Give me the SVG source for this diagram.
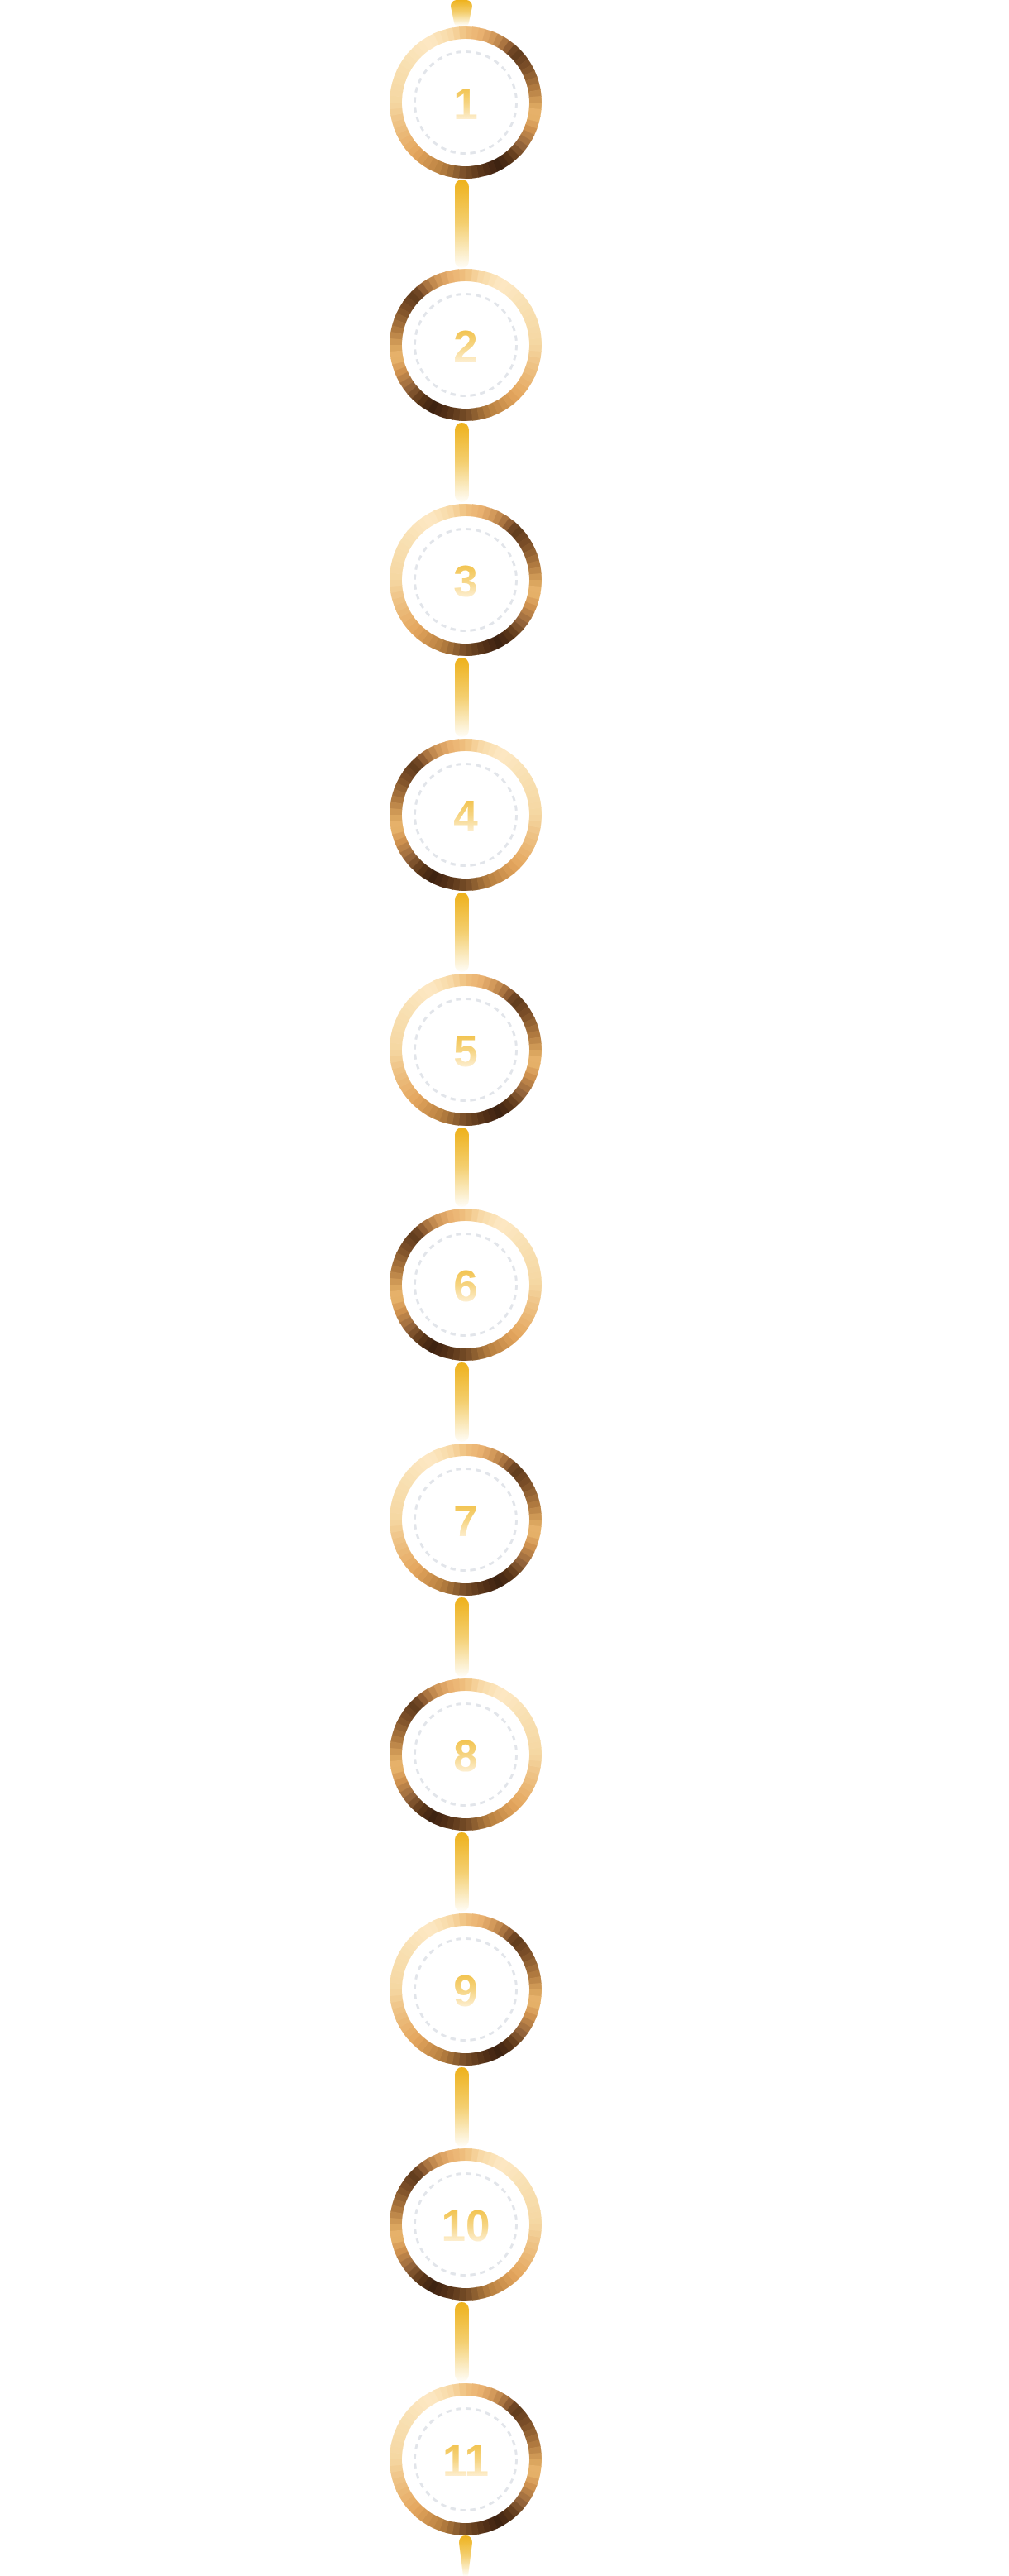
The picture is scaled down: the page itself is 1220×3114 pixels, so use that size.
<svg xmlns="http://www.w3.org/2000/svg" width="1220" height="3114" viewBox="0 0 1220 3114">
<style>
.seg circle{fill:none;stroke-width:15;stroke-dasharray:8.2 540}
.dash{fill:none;stroke:#e2e5ea;stroke-width:3;stroke-dasharray:6.5 5.57}
.num{font-family:"Liberation Sans",Arial,Helvetica,sans-serif;font-weight:700;font-size:53px;fill:url(#numGrad);text-anchor:middle}
.conn{fill:url(#connGrad)}
</style>
<defs>
<linearGradient id="numGrad" x1="0" y1="0" x2="0" y2="1">
<stop offset="0.15" stop-color="#f2c24b"/>
<stop offset="0.5" stop-color="#f6d584"/>
<stop offset="0.82" stop-color="#fdeecf"/>
</linearGradient>
<linearGradient id="connGrad" x1="0" y1="0" x2="0" y2="1">
<stop offset="0" stop-color="#eeb11a"/>
<stop offset="0.5" stop-color="#f4cf70"/>
<stop offset="1" stop-color="#fffdf7"/>
</linearGradient>
<g id="ring" class="seg">
<circle r="84.5" stroke="#eebd7c" transform="rotate(-90)"/>
<circle r="84.5" stroke="#ecb776" transform="rotate(-85)"/>
<circle r="84.5" stroke="#e9b170" transform="rotate(-80)"/>
<circle r="84.5" stroke="#dea566" transform="rotate(-75)"/>
<circle r="84.5" stroke="#d39a5b" transform="rotate(-70)"/>
<circle r="84.5" stroke="#c28a4f" transform="rotate(-65)"/>
<circle r="84.5" stroke="#ab7541" transform="rotate(-60)"/>
<circle r="84.5" stroke="#905e33" transform="rotate(-55)"/>
<circle r="84.5" stroke="#6f4624" transform="rotate(-50)"/>
<circle r="84.5" stroke="#633e1e" transform="rotate(-45)"/>
<circle r="84.5" stroke="#6e4523" transform="rotate(-40)"/>
<circle r="84.5" stroke="#784c27" transform="rotate(-35)"/>
<circle r="84.5" stroke="#84562c" transform="rotate(-30)"/>
<circle r="84.5" stroke="#926233" transform="rotate(-25)"/>
<circle r="84.5" stroke="#a06d39" transform="rotate(-20)"/>
<circle r="84.5" stroke="#af793f" transform="rotate(-15)"/>
<circle r="84.5" stroke="#be884a" transform="rotate(-10)"/>
<circle r="84.5" stroke="#ce9855" transform="rotate(-5)"/>
<circle r="84.5" stroke="#dba65f" transform="rotate(0)"/>
<circle r="84.5" stroke="#e6b16a" transform="rotate(5)"/>
<circle r="84.5" stroke="#e5b068" transform="rotate(10)"/>
<circle r="84.5" stroke="#daa05c" transform="rotate(15)"/>
<circle r="84.5" stroke="#ce914f" transform="rotate(20)"/>
<circle r="84.5" stroke="#ba8248" transform="rotate(25)"/>
<circle r="84.5" stroke="#a77341" transform="rotate(30)"/>
<circle r="84.5" stroke="#92633a" transform="rotate(35)"/>
<circle r="84.5" stroke="#7d522c" transform="rotate(40)"/>
<circle r="84.5" stroke="#67401f" transform="rotate(45)"/>
<circle r="84.5" stroke="#563317" transform="rotate(50)"/>
<circle r="84.5" stroke="#492a14" transform="rotate(55)"/>
<circle r="84.5" stroke="#3e2311" transform="rotate(60)"/>
<circle r="84.5" stroke="#472814" transform="rotate(65)"/>
<circle r="84.5" stroke="#502e16" transform="rotate(70)"/>
<circle r="84.5" stroke="#5a361a" transform="rotate(75)"/>
<circle r="84.5" stroke="#653f1f" transform="rotate(80)"/>
<circle r="84.5" stroke="#704824" transform="rotate(85)"/>
<circle r="84.5" stroke="#7c512a" transform="rotate(90)"/>
<circle r="84.5" stroke="#8d5f30" transform="rotate(95)"/>
<circle r="84.5" stroke="#9e6c36" transform="rotate(100)"/>
<circle r="84.5" stroke="#af793d" transform="rotate(105)"/>
<circle r="84.5" stroke="#bc8443" transform="rotate(110)"/>
<circle r="84.5" stroke="#c58b49" transform="rotate(115)"/>
<circle r="84.5" stroke="#ce934f" transform="rotate(120)"/>
<circle r="84.5" stroke="#d79b55" transform="rotate(125)"/>
<circle r="84.5" stroke="#e0a25b" transform="rotate(130)"/>
<circle r="84.5" stroke="#e5a962" transform="rotate(135)"/>
<circle r="84.5" stroke="#e7ae68" transform="rotate(140)"/>
<circle r="84.5" stroke="#e9b370" transform="rotate(145)"/>
<circle r="84.5" stroke="#eab876" transform="rotate(150)"/>
<circle r="84.5" stroke="#ecbd7e" transform="rotate(155)"/>
<circle r="84.5" stroke="#eec284" transform="rotate(160)"/>
<circle r="84.5" stroke="#f0c78c" transform="rotate(165)"/>
<circle r="84.5" stroke="#f2ce95" transform="rotate(170)"/>
<circle r="84.5" stroke="#f4d49e" transform="rotate(175)"/>
<circle r="84.5" stroke="#f5d8a3" transform="rotate(180)"/>
<circle r="84.5" stroke="#f6d9a6" transform="rotate(185)"/>
<circle r="84.5" stroke="#f6daa8" transform="rotate(190)"/>
<circle r="84.5" stroke="#f7dcaa" transform="rotate(195)"/>
<circle r="84.5" stroke="#f7ddad" transform="rotate(200)"/>
<circle r="84.5" stroke="#f8deaf" transform="rotate(205)"/>
<circle r="84.5" stroke="#f8e0b2" transform="rotate(210)"/>
<circle r="84.5" stroke="#f9e1b5" transform="rotate(215)"/>
<circle r="84.5" stroke="#fae3b8" transform="rotate(220)"/>
<circle r="84.5" stroke="#fbe4bc" transform="rotate(225)"/>
<circle r="84.5" stroke="#fce6bf" transform="rotate(230)"/>
<circle r="84.5" stroke="#fde7c2" transform="rotate(235)"/>
<circle r="84.5" stroke="#fce6c0" transform="rotate(240)"/>
<circle r="84.5" stroke="#fbe2b7" transform="rotate(245)"/>
<circle r="84.5" stroke="#f9deaf" transform="rotate(250)"/>
<circle r="84.5" stroke="#f8d9a7" transform="rotate(255)"/>
<circle r="84.5" stroke="#f5d098" transform="rotate(260)"/>
<circle r="84.5" stroke="#f1c687" transform="rotate(265)"/>
</g>
</defs>
<rect width="1220" height="3114" fill="#ffffff"/>
<g id="connectors">
<path class="conn" d="M545 8C545 2.5 548.5 0 553 0L563 0C567.5 0 571 2.5 571 8L567 27C566.5 30 565 31 563 31L553 31C551 31 549.5 30 549 27Z"/>
<rect class="conn" x="550" y="217" width="17" height="107" rx="8.5"/>
<rect class="conn" x="550" y="511" width="17" height="96" rx="8.5"/>
<rect class="conn" x="550" y="795" width="17" height="96" rx="8.5"/>
<rect class="conn" x="550" y="1079" width="17" height="96" rx="8.5"/>
<rect class="conn" x="550" y="1363" width="17" height="96" rx="8.5"/>
<rect class="conn" x="550" y="1647" width="17" height="96" rx="8.5"/>
<rect class="conn" x="550" y="1931" width="17" height="96" rx="8.5"/>
<rect class="conn" x="550" y="2215" width="17" height="96" rx="8.5"/>
<rect class="conn" x="550" y="2499" width="17" height="96" rx="8.5"/>
<rect class="conn" x="550" y="2783" width="17" height="96" rx="8.5"/>
<path class="conn" d="M555 3074C555 3068 558.5 3065 563 3065C567.5 3065 571 3068 571 3074L566 3114L560 3114Z"/>
</g>
<g id="node-1"><use href="#ring" transform="translate(563,124)"/><circle class="dash" cx="563" cy="124" r="61.5"/><text class="num" x="563" y="144">1</text></g>
<g id="node-2"><use href="#ring" transform="translate(563,417) scale(-1,1)"/><circle class="dash" cx="563" cy="417" r="61.5"/><text class="num" x="563" y="437">2</text></g>
<g id="node-3"><use href="#ring" transform="translate(563,701)"/><circle class="dash" cx="563" cy="701" r="61.5"/><text class="num" x="563" y="721">3</text></g>
<g id="node-4"><use href="#ring" transform="translate(563,985) scale(-1,1)"/><circle class="dash" cx="563" cy="985" r="61.5"/><text class="num" x="563" y="1005">4</text></g>
<g id="node-5"><use href="#ring" transform="translate(563,1269)"/><circle class="dash" cx="563" cy="1269" r="61.5"/><text class="num" x="563" y="1289">5</text></g>
<g id="node-6"><use href="#ring" transform="translate(563,1553) scale(-1,1)"/><circle class="dash" cx="563" cy="1553" r="61.5"/><text class="num" x="563" y="1573">6</text></g>
<g id="node-7"><use href="#ring" transform="translate(563,1837)"/><circle class="dash" cx="563" cy="1837" r="61.5"/><text class="num" x="563" y="1857">7</text></g>
<g id="node-8"><use href="#ring" transform="translate(563,2121) scale(-1,1)"/><circle class="dash" cx="563" cy="2121" r="61.5"/><text class="num" x="563" y="2141">8</text></g>
<g id="node-9"><use href="#ring" transform="translate(563,2405)"/><circle class="dash" cx="563" cy="2405" r="61.5"/><text class="num" x="563" y="2425">9</text></g>
<g id="node-10"><use href="#ring" transform="translate(563,2689) scale(-1,1)"/><circle class="dash" cx="563" cy="2689" r="61.5"/><text class="num" x="563" y="2709">10</text></g>
<g id="node-11"><use href="#ring" transform="translate(563,2973)"/><circle class="dash" cx="563" cy="2973" r="61.5"/><text class="num" x="563" y="2993">11</text></g>
</svg>
